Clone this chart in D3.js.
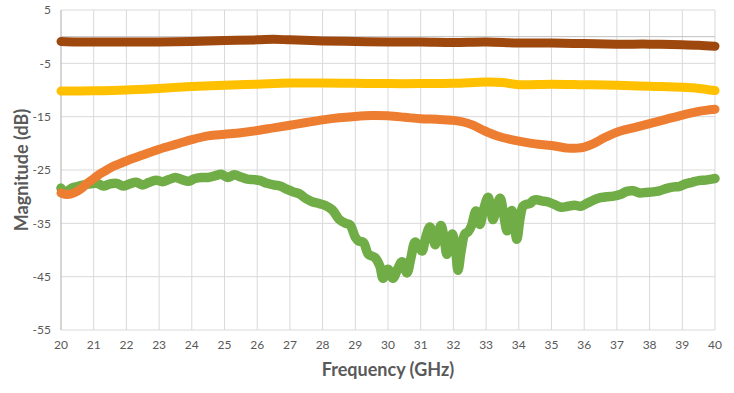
<!DOCTYPE html>
<html>
<head>
<meta charset="utf-8">
<script src="https://cdn.jsdelivr.net/npm/d3@7"></script>
<style>
  body { margin: 0; background: #fff; }
  text { font-family: Lato, "Open Sans", sans-serif; fill: #595959; }
</style>
</head>
<body>
<svg id="chart" width="734" height="393"></svg>
<script>

// brown trace
var brownFreq = [20, 20.5, 21, 22, 23, 24, 25, 26, 26.5, 27, 28, 29, 30, 31, 32, 33, 34, 35, 36, 37, 38, 39, 39.5, 40];
var brownMag  = [-0.9, -1.0, -1.0, -1.0, -1.0, -0.9, -0.7, -0.6, -0.5, -0.6, -0.8, -0.9, -1.0, -1.0, -1.1, -1.0, -1.2, -1.2, -1.3, -1.4, -1.4, -1.5, -1.6, -1.8];

// yellow trace
var yellowFreq = [20, 21, 22, 23, 24, 25, 26, 27, 28, 29, 30, 31, 32, 33, 33.5, 34, 35, 36, 37, 38, 39, 39.5, 40];
var yellowMag  = [-10.2, -10.15, -10.0, -9.7, -9.35, -9.1, -8.9, -8.7, -8.7, -8.75, -8.8, -8.8, -8.75, -8.5, -8.6, -9.0, -8.9, -9.0, -9.1, -9.3, -9.5, -9.7, -10.1];

// orange trace
var orangeFreq = [20, 20.2, 20.4, 20.6, 20.8, 21, 21.2, 21.4, 21.6, 21.8, 22, 22.5, 23, 23.5, 24, 24.5, 25, 25.5, 26, 26.5, 27, 27.5, 28, 28.5, 29, 29.5, 30, 30.5, 31, 31.5, 32, 32.3, 32.6, 32.9, 33.2, 33.5, 34, 34.5, 35, 35.5, 35.8, 36, 36.3, 36.6, 37, 37.5, 38, 38.5, 39, 39.5, 40];
var orangeMag  = [-29.3, -29.6, -29.3, -28.6, -27.5, -26.6, -25.7, -25.0, -24.3, -23.8, -23.3, -22.2, -21.1, -20.2, -19.3, -18.6, -18.3, -18.0, -17.6, -17.1, -16.6, -16.1, -15.6, -15.2, -14.95, -14.8, -14.85, -15.1, -15.4, -15.5, -15.7, -16.0, -16.6, -17.5, -18.3, -18.9, -19.6, -20.1, -20.4, -20.9, -20.9, -20.7, -20.0, -19.0, -17.9, -17.1, -16.3, -15.5, -14.7, -14.0, -13.6];

// green trace
var greenFreq = [20, 20.1, 20.2, 20.3, 20.5, 20.7, 20.9, 21.1, 21.3, 21.5, 21.7, 21.9, 22.1, 22.3, 22.5, 22.7, 22.9, 23.1, 23.3, 23.5, 23.7, 23.9, 24.1, 24.3, 24.5, 24.7, 24.9, 25.1, 25.3, 25.5, 25.7, 25.9, 26.1, 26.3, 26.5, 26.7, 26.9, 27.1, 27.3, 27.5, 27.7, 27.9, 28.1, 28.3, 28.5, 28.7, 28.84,
  29.0, 29.1, 29.25, 29.4, 29.6, 29.75, 29.85, 30.0, 30.15, 30.3, 30.43, 30.58, 30.7, 30.83, 30.95, 31.04, 31.16, 31.28, 31.36, 31.44, 31.53, 31.62, 31.71, 31.8, 31.89, 31.97, 32.06, 32.14, 32.24, 32.35, 32.45, 32.55, 32.69, 32.81, 32.92, 33.06, 33.14, 33.21, 33.32, 33.43, 33.54, 33.64, 33.72, 33.79, 33.87, 33.94, 34.04, 34.13, 34.25, 34.34, 34.45, 34.55,
  34.7, 34.9, 35.1, 35.3, 35.5, 35.7, 35.9, 36.1, 36.3, 36.5, 36.7, 36.9, 37.1, 37.3, 37.5, 37.7, 37.9, 38.1, 38.3, 38.5, 38.7, 38.9, 39.1, 39.3, 39.5, 39.7, 39.9, 40];
var greenMag  = [-28.4, -29.3, -29.0, -28.5, -28.1, -27.8, -27.6, -27.5, -28.0, -27.6, -27.5, -28.0, -27.6, -27.3, -27.8, -27.3, -26.9, -27.2, -26.8, -26.4, -26.8, -27.1, -26.6, -26.4, -26.4, -26.1, -25.8, -26.4, -25.9, -26.3, -26.7, -26.8, -27.0, -27.5, -27.8, -28.0, -28.6, -29.1, -29.5, -30.4, -31.0, -31.3, -31.7, -32.5, -34.2, -35.0, -35.3,
  -37.6, -38.3, -38.6, -40.8, -41.4, -43.0, -45.3, -43.6, -45.3, -43.5, -42.2, -44.3, -41.5, -38.5, -39.3, -40.2, -37.5, -35.7, -37.0, -39.0, -37.0, -35.4, -37.5, -40.8, -38.5, -37.0, -39.5, -43.8, -40.0, -37.0, -36.6, -35.5, -32.7, -35.2, -32.5, -30.1, -32.0, -34.3, -32.0, -30.3, -33.5, -36.4, -33.5, -32.6, -35.5, -38.0, -34.0, -31.8, -31.4, -31.3, -30.7, -30.6,
  -30.8, -31.0, -31.5, -32.0, -31.8, -31.6, -31.8, -31.2, -30.6, -30.2, -30.0, -29.9, -29.6, -29.0, -28.9, -29.3, -29.2, -29.1, -28.9, -28.5, -28.2, -28.1, -27.6, -27.3, -27.0, -26.9, -26.7, -26.6];

var xTicks = d3.range(20, 41, 1);
var yTicks = [5, -5, -15, -25, -35, -45, -55];

var svg = d3.select("#chart"),
    plotL = 61, plotR = 715, plotT = 10, plotB = 330;

var x = d3.scaleLinear().domain([20, 40]).range([plotL, plotR]);
var y = d3.scaleLinear().domain([-55, 5]).range([plotB, plotT]);

// grid
svg.append("g").selectAll("line")
    .data(xTicks)
  .enter().append("line")
    .attr("x1", function(d) { return x(d); })
    .attr("x2", function(d) { return x(d); })
    .attr("y1", plotT)
    .attr("y2", plotB)
    .attr("stroke", "#d9d9d9");

svg.append("g").selectAll("line")
    .data(yTicks)
  .enter().append("line")
    .attr("x1", plotL)
    .attr("x2", plotR)
    .attr("y1", function(d) { return y(d); })
    .attr("y2", function(d) { return y(d); })
    .attr("stroke", "#d9d9d9");

// horizontal axis crosses at 0
svg.append("line")
    .attr("x1", plotL).attr("x2", plotR)
    .attr("y1", y(0)).attr("y2", y(0))
    .attr("stroke", "#bfbfbf");

svg.append("line")
    .attr("x1", plotL).attr("x2", plotL)
    .attr("y1", plotT).attr("y2", plotB)
    .attr("stroke", "#bfbfbf");

// tick labels
svg.append("g").selectAll("text")
    .data(yTicks)
  .enter().append("text")
    .attr("x", plotL - 10)
    .attr("y", function(d) { return y(d); })
    .attr("dy", "0.35em")
    .attr("text-anchor", "end")
    .style("font-size", "12px")
    .text(function(d) { return d; });

svg.append("g").selectAll("text")
    .data(xTicks)
  .enter().append("text")
    .attr("x", function(d) { return x(d); })
    .attr("y", plotB + 19)
    .attr("text-anchor", "middle")
    .style("font-size", "12px")
    .text(function(d) { return d; });

// titles
svg.append("text")
    .attr("x", 388)
    .attr("y", 376)
    .attr("text-anchor", "middle")
    .style("font-size", "18px")
    .style("font-weight", "bold")
    .text("Frequency (GHz)");

svg.append("text")
    .attr("transform", "translate(28,170) rotate(-90)")
    .attr("text-anchor", "middle")
    .style("font-size", "18px")
    .style("font-weight", "bold")
    .text("Magnitude (dB)");

// traces
var line = d3.line()
    .x(function(d) { return x(d[0]); })
    .y(function(d) { return y(d[1]); })
    .curve(d3.curveCatmullRom.alpha(0.5));

var series = [
  { f: greenFreq,  m: greenMag,  color: "#70ad47", w: 9.5 },
  { f: orangeFreq, m: orangeMag, color: "#ed7d31", w: 9 },
  { f: yellowFreq, m: yellowMag, color: "#ffc000", w: 9 },
  { f: brownFreq,  m: brownMag,  color: "#9e480e", w: 9 }
];

series.forEach(function(s) {
  var pts = d3.zip(s.f, s.m);
  svg.append("path")
      .datum(pts)
      .attr("d", line)
      .attr("fill", "none")
      .attr("stroke", s.color)
      .attr("stroke-width", s.w)
      .attr("stroke-linecap", "round")
      .attr("stroke-linejoin", "round");
});

</script>
</body>
</html>
